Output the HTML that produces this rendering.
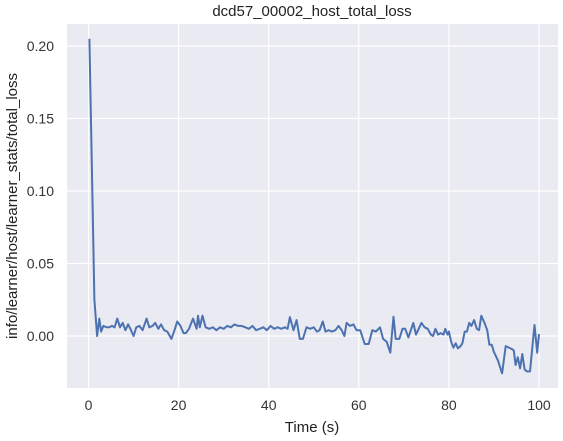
<!DOCTYPE html>
<html><head><meta charset="utf-8"><style>
body{margin:0;background:#fff;}
svg{display:block;font-family:"Liberation Sans",sans-serif;}
</style></head><body>
<svg id="chart" width="563" height="441">
<rect x="67" y="24" width="491" height="364" fill="#eaeaf2"/>
<g id="grid"></g>
<g id="ticks"></g>
<path id="line" fill="none" stroke="#4c72b0" stroke-width="2" stroke-linejoin="round"/>
<text x="312" y="16" text-anchor="middle" font-size="15" fill="#222">dcd57_00002_host_total_loss</text>
<text x="312" y="432" text-anchor="middle" font-size="15" fill="#222">Time (s)</text>
<text transform="translate(17,206) rotate(-90)" text-anchor="middle" font-size="15" fill="#222">info/learner/host/learner_stats/total_loss</text>
</svg>
<script>
const xTicks=[0,20,40,60,80,100];
const yTicks=[0.00,0.05,0.10,0.15,0.20];
const yTickLabels=["0.00","0.05","0.10","0.15","0.20"];
const times=[0.2,1.3,1.9,2.4,2.8,3.3,4,4.6,5.2,5.8,
6.4,7,7.6,8.2,8.8,9.3,10,10.6,11.3,12,
12.9,13.5,14.2,14.8,15.5,16.1,16.8,17.5,18.4,19.1,
19.7,20.4,21.1,21.6,22.3,23.2,24,24.3,24.7,25.3,
26,26.8,27.6,28.4,29.2,30,30.8,31.6,32.4,33.2,
34,34.8,35.6,36.4,37.2,38,38.8,39.6,40.4,41.2,
42,42.8,43.6,44.2,44.7,45.5,46.2,46.9,47.6,48.4,
49.2,50,50.7,51.3,52,52.6,53.3,54,54.8,55.5,
56.2,56.8,57.3,58,58.8,59.5,60.3,61.3,62.2,
63,63.8,64.7,65.4,66.2,67,67.7,68.2,69,69.7,
70.3,71,72.1,72.7,73.3,73.9,74.6,75.3,76,76.5,
77,77.6,78.2,78.8,79.2,79.7,80.0,80.5,81.0,81.5,
82.0,82.6,83.0,83.5,84.0,84.5,85.0,85.6,86.2,86.7,
87.2,87.9,88.5,89.0,89.5,90.0,90.9,91.8,92.6,93.3,
94.0,94.4,94.8,95.3,95.8,96.3,96.8,97.3,98.0,99.0,
99.6,100];
const losses=[0.205,0.025,0.0,0.012,0.003,0.007,0.006,0.006,0.007,0.006,
0.012,0.006,0.009,0.004,0.008,0.005,0.0,0.006,0.007,0.004,
0.012,0.006,0.007,0.009,0.005,0.008,0.004,0.003,-0.002,0.004,
0.01,0.007,0.002,0.002,0.005,0.012,0.005,0.014,0.006,0.014,
0.006,0.005,0.006,0.004,0.006,0.005,0.007,0.006,0.008,0.007,
0.007,0.006,0.005,0.007,0.004,0.005,0.006,0.004,0.007,0.005,
0.006,0.005,0.006,0.005,0.013,0.004,0.011,-0.002,-0.002,0.006,
0.005,0.006,0.003,0.004,0.01,0.003,0.004,0.003,0.004,0.007,
0.004,0.0,0.009,0.007,0.008,0.004,0.004,-0.0055,-0.0055,
0.004,0.003,0.006,-0.002,-0.004,-0.0115,0.0133,-0.002,-0.002,0.005,
0.005,-0.001,0.009,0.001,0.005,0.009,0.006,0.005,0.001,0.0,
0.005,0.001,0.002,0.001,0.005,0.001,0.003,-0.004,-0.008,-0.005,
-0.0085,-0.007,-0.005,0.003,0.003,0.009,0.007,0.011,0.005,0.004,
0.014,0.009,0.004,-0.006,-0.006,-0.011,-0.017,-0.0258,-0.007,-0.008,
-0.009,-0.01,-0.02,-0.0147,-0.0223,-0.0124,-0.023,-0.0244,-0.0244,0.0076,
-0.0115,0.0014];
const NS="http://www.w3.org/2000/svg";
const L=67,R=558,T=24,B=388;
const xs=t=>88.5+t*4.505;
const ys=v=>336-v*1450;
const grid=document.getElementById('grid'),ticks=document.getElementById('ticks');
function mk(tag,attrs,parent){const e=document.createElementNS(NS,tag);for(const k in attrs)e.setAttribute(k,attrs[k]);parent.appendChild(e);return e;}
xTicks.forEach(t=>{
  const l=mk('line',{x1:xs(t),x2:xs(t),y1:T,y2:B,stroke:'#fff','stroke-width':1.2},grid);
  
  
  const tx=mk('text',{x:xs(t),y:410,'text-anchor':'middle','font-size':14,fill:'#333'},ticks);
  tx.textContent=t;
  
  
});
yTicks.forEach((v,i)=>{
  const l=mk('line',{x1:L,x2:R,y1:ys(v),y2:ys(v),stroke:'#fff','stroke-width':1.2},grid);
  
  
  const tx=mk('text',{x:54,y:ys(v)+5,'text-anchor':'end','font-size':14,fill:'#333'},ticks);
  tx.textContent=yTickLabels[i];
  
  
});
const n=Math.min(times.length,losses.length);
let d='';
for(let i=0;i<n;i++){d+=(i?'L':'M')+xs(times[i]).toFixed(1)+','+ys(losses[i]).toFixed(1);}
document.getElementById('line').setAttribute('d',d);
</script>
</body></html>
